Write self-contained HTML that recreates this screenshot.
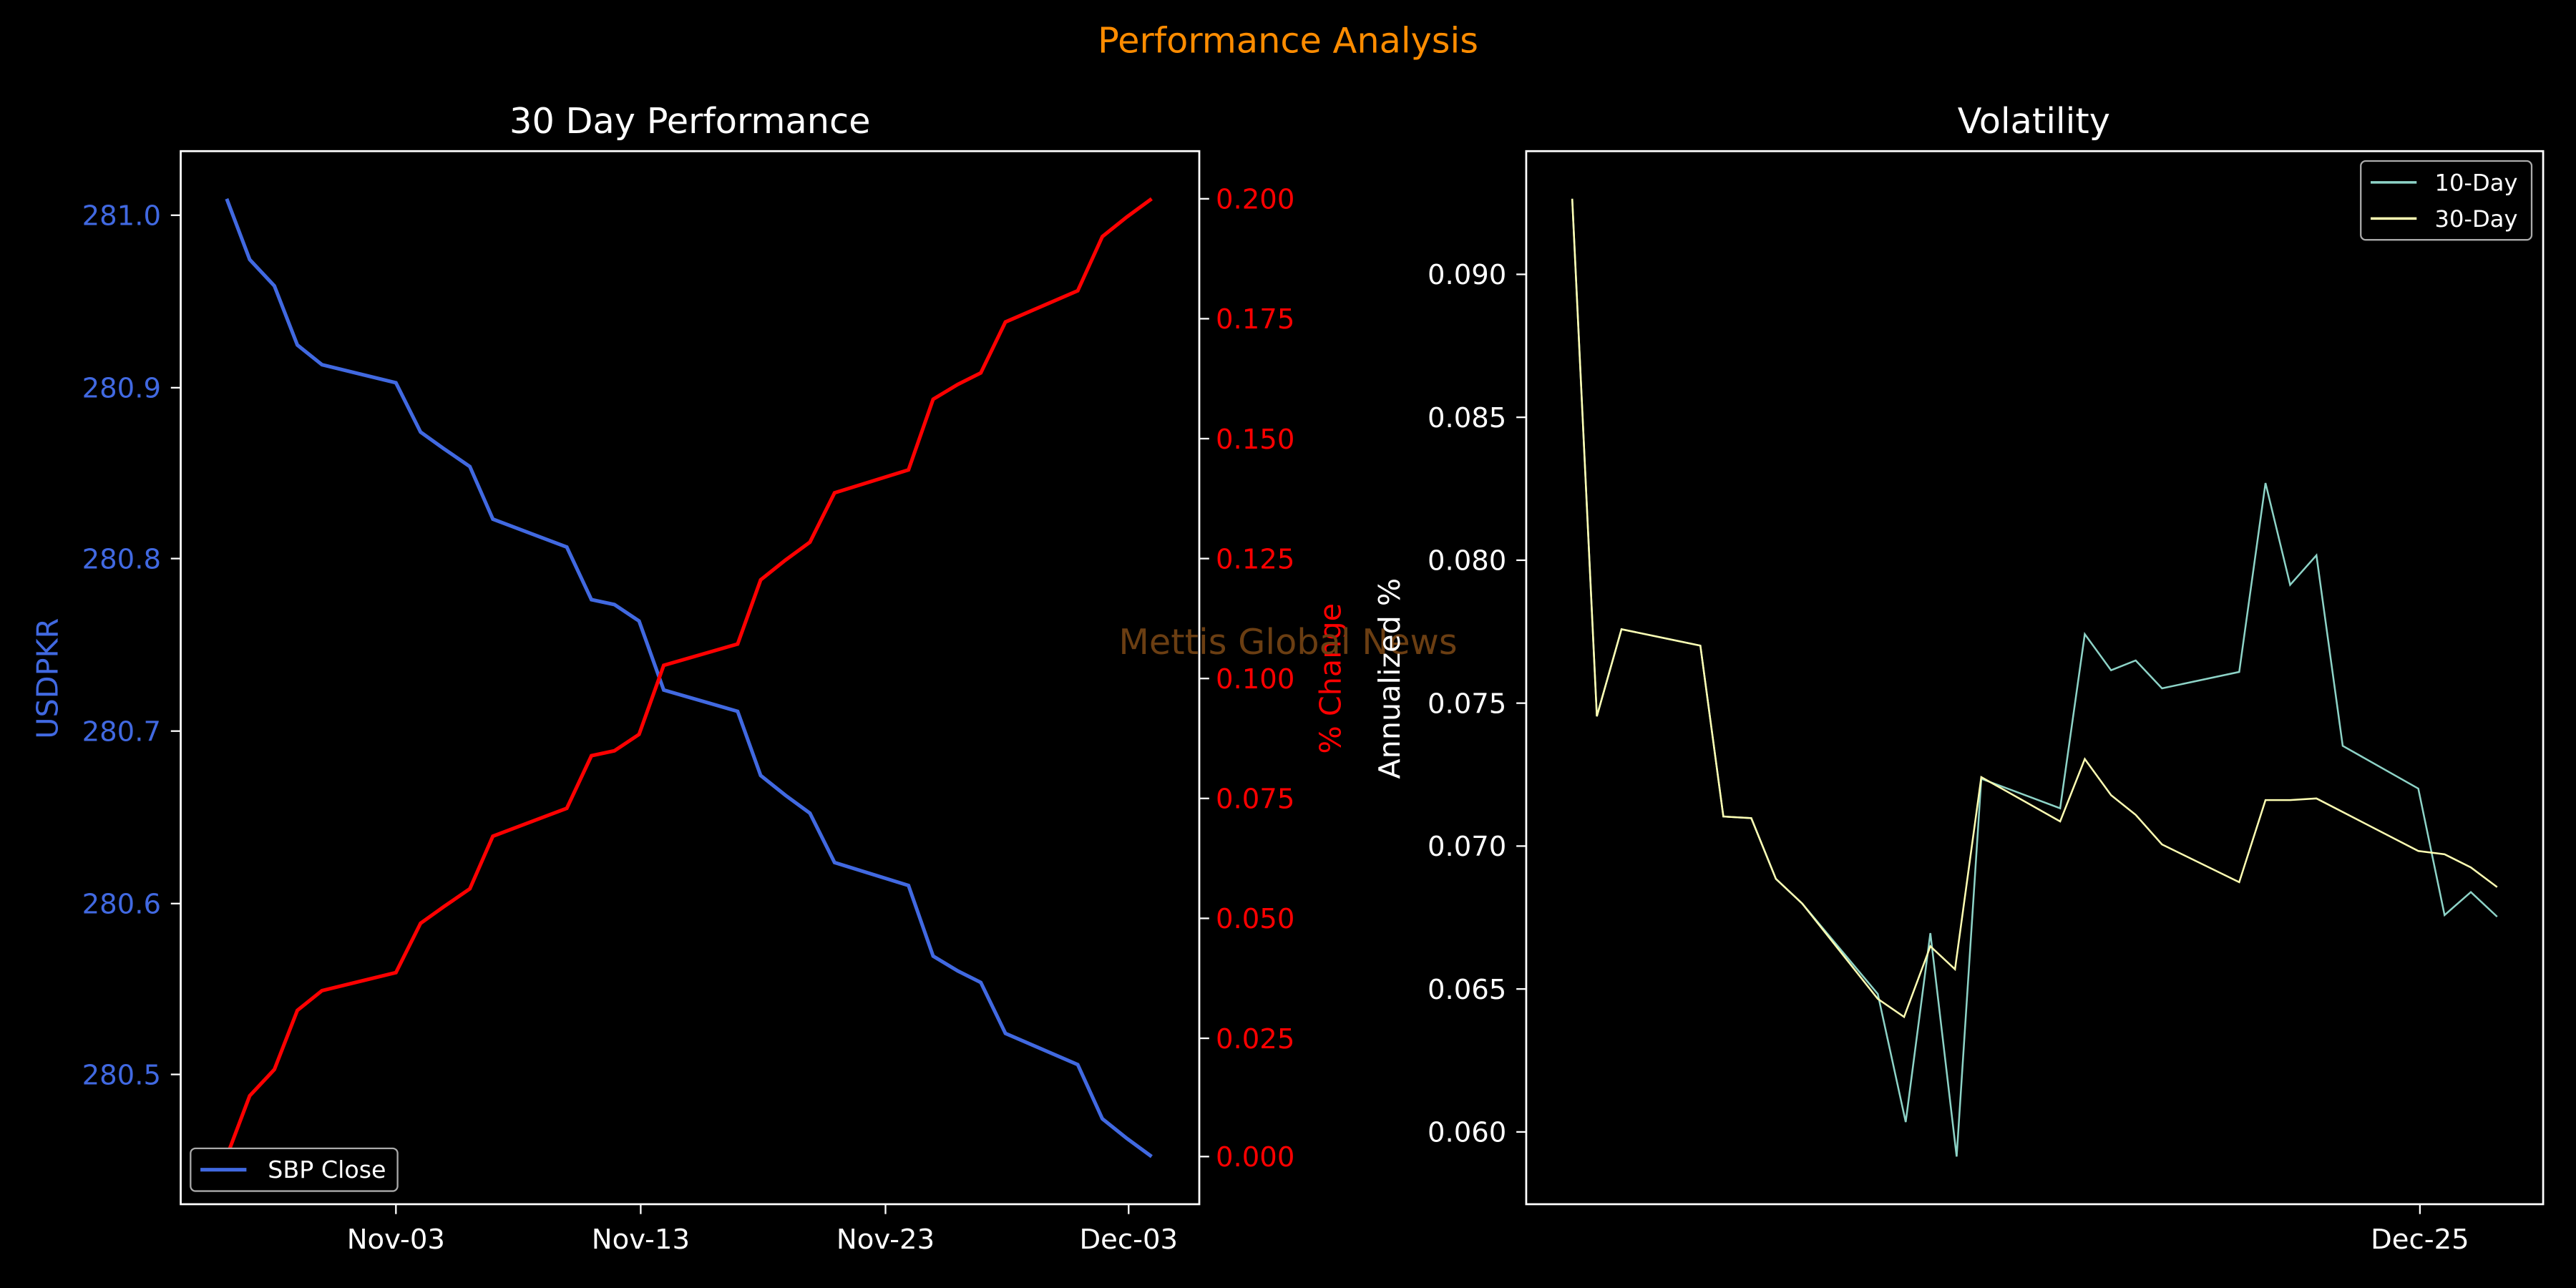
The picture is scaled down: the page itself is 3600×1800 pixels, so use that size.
<!DOCTYPE html>
<html><head><meta charset="utf-8"><style>
html,body{margin:0;padding:0;background:#000;}
svg{display:block;}
text{font-family:"DejaVu Sans","Liberation Sans",sans-serif;}
</style></head><body>
<svg width="3600" height="1800" viewBox="0 0 1568 784" xmlns="http://www.w3.org/2000/svg">
<rect width="1568" height="784" fill="#000"/>
<text x="784" y="32" fill="#ff8c00" font-size="21.5" text-anchor="middle">Performance Analysis</text>

<!-- Left panel -->
<text x="420" y="81" fill="#fff" font-size="21.5" text-anchor="middle">30 Day Performance</text>
<rect x="110" y="92" width="620" height="641" fill="none" stroke="#fff" stroke-width="1.2"/>
<g fill="#4169e1" font-size="16.8" text-anchor="end">
<text x="98" y="137">281.0</text><text x="98" y="242">280.9</text><text x="98" y="346">280.8</text>
<text x="98" y="451">280.7</text><text x="98" y="556">280.6</text><text x="98" y="660">280.5</text>
</g>
<g stroke="#fff" stroke-width="1">
<line x1="104" y1="131" x2="110" y2="131"/><line x1="104" y1="236" x2="110" y2="236"/><line x1="104" y1="340" x2="110" y2="340"/>
<line x1="104" y1="445" x2="110" y2="445"/><line x1="104" y1="550" x2="110" y2="550"/><line x1="104" y1="654" x2="110" y2="654"/>
<line x1="241" y1="733" x2="241" y2="739"/><line x1="390" y1="733" x2="390" y2="739"/><line x1="539" y1="733" x2="539" y2="739"/><line x1="687" y1="733" x2="687" y2="739"/>
<line x1="730" y1="121" x2="736" y2="121"/><line x1="730" y1="194" x2="736" y2="194"/><line x1="730" y1="267" x2="736" y2="267"/><line x1="730" y1="340" x2="736" y2="340"/><line x1="730" y1="413" x2="736" y2="413"/><line x1="730" y1="486" x2="736" y2="486"/><line x1="730" y1="559" x2="736" y2="559"/><line x1="730" y1="632" x2="736" y2="632"/><line x1="730" y1="704" x2="736" y2="704"/>
</g>
<text transform="translate(35,413) rotate(-90)" fill="#4169e1" font-size="18" text-anchor="middle">USDPKR</text>
<g fill="#ff0000" font-size="16.8">
<text x="740" y="127">0.200</text><text x="740" y="200">0.175</text><text x="740" y="273">0.150</text>
<text x="740" y="346">0.125</text><text x="740" y="419">0.100</text><text x="740" y="492">0.075</text>
<text x="740" y="565">0.050</text><text x="740" y="638">0.025</text><text x="740" y="710">0.000</text>
</g>
<text transform="translate(816,413) rotate(-90)" fill="#ff0000" font-size="18" text-anchor="middle">% Change</text>
<g fill="#fff" font-size="16.8" text-anchor="middle">
<text x="241" y="760">Nov-03</text><text x="390" y="760">Nov-13</text><text x="539" y="760">Nov-23</text><text x="687" y="760">Dec-03</text>
</g>
<polyline fill="none" stroke="#4169e1" stroke-width="2.2" points="138,121 152,158 167,174 181,210 196,222 241,233 256,263 270,273 286,284 300,316 345,333 360,365 374,368 389,378 404,420 449,433 463,472 478,484 493,495 508,525 553,539 568,582 583,591 597,598 612,629 656,648 671,681 686,693 701,704"/>
<polyline fill="none" stroke="#ff0000" stroke-width="2.2" points="138,704 152,667 167,651 181,615 196,603 241,592 256,562 270,552 286,541 300,509 345,492 360,460 374,457 389,447 404,405 449,392 463,353 478,341 493,330 508,300 553,286 568,243 583,234 597,227 612,196 656,177 671,144 686,132 701,121"/>
<rect x="116" y="699" width="126" height="26" rx="3" fill="#000" stroke="#aaa" stroke-width="1"/>
<line x1="122" y1="712" x2="150" y2="712" stroke="#4169e1" stroke-width="2.2"/>
<text x="163" y="717" fill="#fff" font-size="14.5">SBP Close</text>
<text x="784" y="398" fill="#6b3e12" font-size="21.5" text-anchor="middle">Mettis Global News</text>

<!-- Right panel -->
<text x="1238" y="81" fill="#fff" font-size="21.5" text-anchor="middle">Volatility</text>
<rect x="929" y="92" width="619" height="641" fill="none" stroke="#fff" stroke-width="1.2"/>
<g fill="#fff" font-size="16.8" text-anchor="end">
<text x="917" y="173">0.090</text><text x="917" y="260">0.085</text><text x="917" y="347">0.080</text>
<text x="917" y="434">0.075</text><text x="917" y="521">0.070</text><text x="917" y="608">0.065</text><text x="917" y="695">0.060</text>
</g>
<g stroke="#fff" stroke-width="1">
<line x1="923" y1="167" x2="929" y2="167"/><line x1="923" y1="254" x2="929" y2="254"/><line x1="923" y1="341" x2="929" y2="341"/><line x1="923" y1="428" x2="929" y2="428"/><line x1="923" y1="515" x2="929" y2="515"/><line x1="923" y1="602" x2="929" y2="602"/><line x1="923" y1="689" x2="929" y2="689"/>
<line x1="1473" y1="733" x2="1473" y2="739"/>
</g>
<text transform="translate(852,413) rotate(-90)" fill="#fff" font-size="18" text-anchor="middle">Annualized %</text>
<text x="1473" y="760" fill="#fff" font-size="16.8" text-anchor="middle">Dec-25</text>
<polyline fill="none" stroke="#8dd3c7" stroke-width="1.1" points="957,121 972,436 987,383 1035,393 1049,497 1066,498 1081,535 1097,550 1143,605 1160,683 1175,568 1191,704 1206,474 1254,492 1269,386 1285,408 1300,402 1316,419 1363,409 1379,294 1394,356 1410,338 1426,454 1472,480 1488,557 1504,543 1520,558"/>
<polyline fill="none" stroke="#ffffb3" stroke-width="1.1" points="957,121 972,436 987,383 1035,393 1049,497 1066,498 1081,535 1097,550 1143,608 1159,619 1175,576 1190,590 1206,473 1254,500 1269,462 1285,484 1300,496 1316,514 1363,537 1379,487 1394,487 1410,486 1472,518 1488,520 1504,528 1520,540"/>
<rect x="1437" y="98" width="104" height="48" rx="3" fill="#000" stroke="#aaa" stroke-width="1"/>
<line x1="1443" y1="111" x2="1471" y2="111" stroke="#8dd3c7" stroke-width="1.5"/>
<text x="1482" y="116" fill="#fff" font-size="14">10-Day</text>
<line x1="1443" y1="133" x2="1471" y2="133" stroke="#ffffb3" stroke-width="1.5"/>
<text x="1482" y="138" fill="#fff" font-size="14">30-Day</text>
</svg>
</body></html>
